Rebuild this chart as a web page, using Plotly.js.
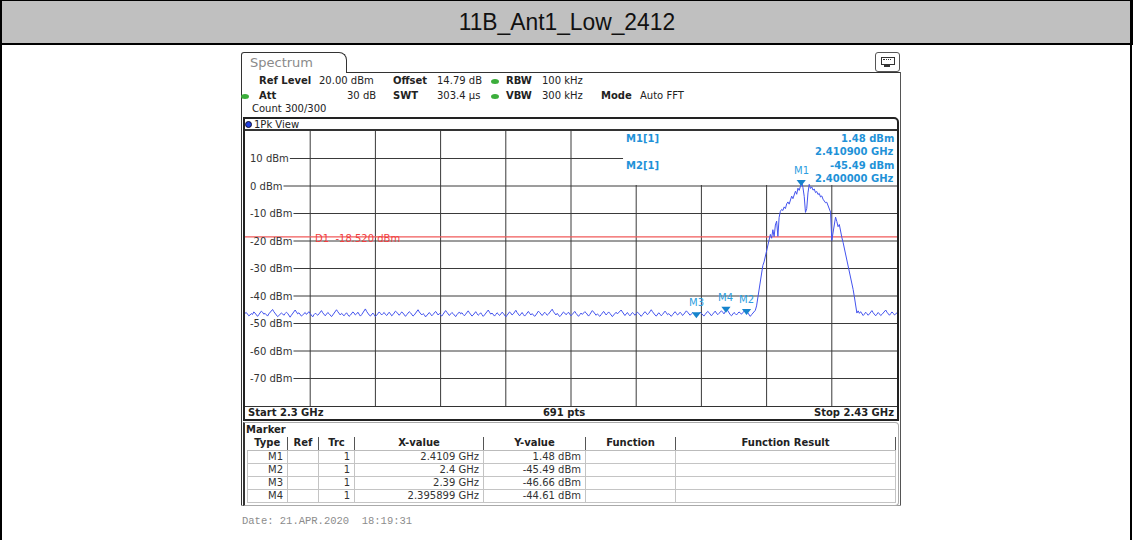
<!DOCTYPE html>
<html><head><meta charset="utf-8">
<script src="https://cdn.plot.ly/plotly-3.0.1.min.js"></script>
<style>
body{margin:0;width:1133px;height:540px;background:#fff;overflow:hidden;position:relative;font-family:"DejaVu Sans",sans-serif;color:#222;}
#plot{position:absolute;left:0;top:0;width:1133px;height:540px;z-index:0;}
#ov{position:absolute;left:0;top:0;width:1133px;height:540px;z-index:1;pointer-events:none;}
.a{position:absolute;white-space:nowrap;}
.t{font-size:10px;line-height:12px;}
.b{font-weight:bold;}
.dot{position:absolute;width:8px;height:5px;border-radius:50%;background:#3cae3c;}
table{border-collapse:collapse;table-layout:fixed;}
td,th{font-size:10px;padding:0 4px;height:12px;line-height:12px;white-space:nowrap;overflow:hidden;}
th{border-right:1px solid #555;border-bottom:1px solid #bbb;font-weight:bold;text-align:center;}
td{border:1px solid #c4c4c4;text-align:right;color:#333;}
</style></head><body>
<div id="plot"></div>
<div id="ov">
  <div class="a" style="left:0;top:0;width:1131px;height:42px;background:#c0c0c0;border:1px solid #000;border-bottom:2px solid #000;"></div>
  <div class="a" style="left:0;top:0;width:1133px;height:44px;text-align:center;line-height:44px;font-family:'Liberation Sans',Arial,sans-serif;font-size:24px;color:#111;"><span style="display:inline-block;transform:scaleX(0.95);">11B_Ant1_Low_2412</span></div>
  <div class="a" style="left:0;top:0;width:2px;height:540px;background:#000;"></div>
  <div class="a" style="left:1130px;top:0;width:2px;height:540px;background:#000;"></div>

  <!-- tab -->
  <div class="a" style="left:241px;top:52px;width:106px;height:21px;border:1px solid #333;border-bottom:none;border-radius:3px 8px 0 0;box-sizing:border-box;"></div>
  <div class="a" style="left:250px;top:55px;font-size:13px;line-height:16px;color:#8a8a8a;">Spectrum</div>
  <div class="a" style="left:346px;top:72px;width:555px;height:1px;background:#333;"></div>
  <div class="a" style="left:241px;top:72px;width:1px;height:433px;background:#333;"></div>
  <div class="a" style="left:900px;top:72px;width:1px;height:433px;background:#555;"></div>
  <div class="a" style="left:241px;top:505px;width:660px;height:1px;background:#999;"></div>
  <!-- icon -->
  <div class="a" style="left:875px;top:52px;width:25px;height:20px;border:1px solid #555;border-radius:3px;box-sizing:border-box;"></div>
  <div class="a" style="left:881px;top:57px;width:12px;height:6px;border:1px solid #333;"></div>
  <div class="a" style="left:883px;top:59px;width:8px;height:0;border-top:1px dotted #333;"></div>
  <div class="a" style="left:884px;top:65px;width:6px;height:0;border-top:2px solid #333;"></div>

  <!-- header info -->
  <div class="a t b" style="left:259px;top:75px;">Ref Level</div>
  <div class="a t" style="left:319px;top:75px;">20.00 dBm</div>
  <div class="a t b" style="left:393px;top:75px;">Offset</div>
  <div class="a t" style="left:437px;top:75px;">14.79 dB</div>
  <div class="dot" style="left:491px;top:79px;"></div>
  <div class="a t b" style="left:506px;top:75px;">RBW</div>
  <div class="a t" style="left:542px;top:75px;">100 kHz</div>
  <div class="dot" style="left:241px;top:94px;"></div>
  <div class="a t b" style="left:259px;top:90px;">Att</div>
  <div class="a t" style="left:347px;top:90px;">30 dB</div>
  <div class="a t b" style="left:393px;top:90px;">SWT</div>
  <div class="a t" style="left:437px;top:90px;">303.4 µs</div>
  <div class="dot" style="left:491px;top:94px;"></div>
  <div class="a t b" style="left:506px;top:90px;">VBW</div>
  <div class="a t" style="left:542px;top:90px;">300 kHz</div>
  <div class="a t b" style="left:601px;top:90px;">Mode</div>
  <div class="a t" style="left:640px;top:90px;">Auto FFT</div>
  <div class="a t" style="left:252px;top:103px;">Count 300/300</div>

  <!-- diagram frame -->
  <div class="a" style="left:243px;top:117px;width:656px;height:304px;border:2px solid #222;border-radius:0 5px 0 0;box-sizing:border-box;"></div>
  <div class="a" style="left:245px;top:129px;width:652px;height:2px;background:#333;"></div>
  <div class="a" style="left:245px;top:406px;width:652px;height:1px;background:#333;"></div>
  <div class="a" style="left:245px;top:121px;width:7px;height:7px;border-radius:50%;background:#1f3fe0;border:1px solid #113;box-sizing:border-box;"></div>
  <div class="a t" style="left:254px;top:119px;">1Pk View</div>
  <div class="a t b" style="left:248px;top:407px;">Start 2.3 GHz</div>
  <div class="a t b" style="left:514px;top:407px;width:100px;text-align:center;">691 pts</div>
  <div class="a t b" style="left:744px;top:407px;width:150px;text-align:right;">Stop 2.43 GHz</div>

  <!-- marker box -->
  <div class="a" style="left:243px;top:422px;width:656px;height:84px;border:1px solid #aaa;border-left:2px solid #333;border-radius:0 4px 4px 0;box-sizing:border-box;"></div>
  <div class="a t b" style="left:246px;top:424px;">Marker</div>
  <div class="a" style="left:247px;top:437px;" id="tblwrap"></div>

  <div class="a" style="left:242px;top:515px;font-family:'Liberation Mono',monospace;font-size:10.5px;line-height:13px;color:#8c8c8c;">Date: 21.APR.2020&nbsp;&nbsp;18:19:31</div>
</div>
<script>
// ---- data ----
const sweepStartGHz = 2.3;
const sweepStopGHz = 2.43;
const sweepStepGHz = 0.00025;
const traceLevelsDbm = [
-46.3,-46.0,-46.6,-47.2,-46.9,-46.4,-46.7,-45.8,-46.2,-47.0,-47.4,-46.8,-46.1,-45.5,-45.9,-46.6,-46.3,-46.9,-47.3,-46.5,
-46.0,-45.2,-44.9,-45.7,-46.4,-46.8,-47.5,-47.1,-46.6,-46.2,-46.5,-47.0,-46.4,-45.9,-46.3,-47.2,-47.7,-47.0,-46.2,-45.6,
-45.1,-45.8,-46.5,-46.1,-46.8,-47.3,-46.9,-46.4,-46.0,-46.7,-46.2,-45.7,-46.4,-47.1,-47.6,-46.8,-46.3,-46.6,-47.0,-46.5,
-45.8,-45.3,-46.1,-46.9,-47.2,-46.6,-46.0,-46.4,-47.1,-47.5,-46.9,-46.2,-45.6,-45.0,-45.7,-46.5,-46.9,-46.3,-46.7,-47.2,
-46.6,-46.1,-46.8,-47.4,-47.0,-46.3,-45.8,-46.2,-46.9,-46.5,-45.9,-46.6,-47.3,-46.8,-46.2,-45.4,-44.7,-45.6,-46.4,-46.9,
-47.3,-46.7,-46.2,-46.8,-47.5,-47.0,-46.4,-45.8,-46.3,-46.9,-46.4,-46.0,-46.7,-47.1,-46.5,-45.9,-46.5,-47.2,-46.8,-46.1,
-45.5,-45.9,-46.6,-47.0,-46.4,-45.8,-46.2,-46.9,-47.4,-46.8,-46.3,-45.7,-46.1,-46.8,-47.3,-46.9,-46.2,-45.4,-45.0,-45.8,
-46.5,-46.9,-46.4,-46.8,-47.6,-47.1,-46.5,-46.0,-46.6,-47.2,-46.7,-46.1,-45.6,-46.2,-46.9,-46.4,-46.8,-47.3,-46.6,-46.0,
-45.3,-45.9,-46.7,-47.1,-46.5,-46.0,-46.4,-47.0,-47.5,-46.8,-46.2,-45.8,-46.5,-46.1,-46.7,-47.2,-46.6,-45.9,-45.4,-46.1,
-46.8,-47.3,-46.9,-46.3,-45.7,-46.4,-47.0,-46.6,-46.1,-46.8,-47.4,-46.9,-46.3,-45.6,-45.1,-45.9,-46.6,-46.2,-46.9,-47.3,
-46.7,-46.1,-46.5,-47.1,-46.6,-45.9,-46.3,-47.0,-47.6,-47.0,-46.4,-45.8,-46.2,-46.9,-46.5,-45.7,-45.2,-46.0,-46.8,-47.2,
-46.6,-46.0,-46.7,-47.3,-46.8,-46.2,-45.6,-46.3,-46.9,-46.4,-46.8,-47.4,-46.9,-46.1,-45.5,-46.0,-46.7,-47.1,-46.5,-45.9,
-46.4,-47.0,-46.6,-46.1,-45.4,-44.8,-45.7,-46.5,-46.9,-46.3,-46.8,-47.5,-47.0,-46.3,-45.8,-46.2,-46.8,-46.4,-45.9,-46.6,
-47.2,-46.7,-46.1,-45.6,-46.3,-46.9,-47.4,-46.8,-46.2,-46.7,-46.3,-45.7,-46.1,-46.8,-47.3,-46.7,-46.0,-45.3,-45.8,-46.5,
-47.0,-46.5,-46.9,-47.4,-46.8,-46.1,-45.6,-46.2,-46.9,-46.4,-45.8,-46.3,-47.0,-47.5,-46.9,-46.3,-45.9,-46.5,-46.1,-45.5,
-45.1,-45.8,-46.6,-47.1,-46.5,-46.0,-46.7,-47.2,-46.6,-46.0,-46.4,-47.0,-46.5,-45.9,-46.3,-46.9,-47.4,-46.8,-46.2,-45.7,
-46.2,-46.8,-46.3,-45.6,-45.0,-45.7,-46.4,-46.9,-47.3,-46.7,-46.1,-46.6,-47.2,-46.7,-46.0,-45.5,-46.1,-46.8,-46.4,-46.9,
-47.4,-46.8,-46.2,-45.7,-46.3,-46.9,-46.5,-45.9,-46.4,-47.1,-46.6,-46.0,-45.4,-45.9,-46.6,-47.0,-46.5,-46.1,-46.5,-46.9,
-46.66,-47.1,-46.5,-45.9,-46.3,-46.8,-47.3,-46.7,-46.1,-45.6,-46.0,-46.7,-47.2,-46.6,-46.0,-45.5,-46.2,-46.8,-46.3,-45.8,
-45.4,-45.9,-46.5,-45.7,-44.61,-45.3,-46.2,-46.8,-47.2,-46.5,-46.0,-46.4,-46.9,-46.3,-45.8,-46.2,-46.6,-46.0,-45.6,-45.2,
-45.49,-46.2,-46.9,-47.4,-46.8,-46.3,
-46.0,-45.2,-43.6,-40.5,-37.4,-34.6,-31.2,-28.9,-27.6,-25.4,-23.6,-21.9,-19.8,-17.6,-19.0,-15.9,-18.4,-14.2,-12.8,-18.3,
-11.4,-9.2,-8.5,-8.9,-7.6,-8.2,-6.5,-5.8,-6.6,-4.9,-3.7,-4.6,-2.8,-1.9,-3.0,-0.8,-1.6,0.4,1.48,-0.6,
-3.8,-9.6,-8.2,-2.5,0.6,-0.9,-0.3,-1.5,-1.1,-2.4,-2.0,-3.1,-2.7,-4.0,-3.6,-4.8,-5.3,-6.1,-5.9,-7.2,
-8.0,-9.5,-19.8,-17.2,-13.6,-11.3,-12.9,-14.8,-14.0,-17.1,-18.7,-20.5,-22.6,-24.1,-26.0,-28.3,-30.2,-32.5,-34.9,-37.6,
-40.3,-43.0,-46.2,-45.4,
-46.3,-45.7,-46.5,-47.1,-46.6,-45.9,-46.4,-47.0,-46.5,-45.8,-45.3,-46.1,-46.8,-47.2,-46.6,-46.0,-46.5,-47.1,-46.7,-46.2,
-45.6,-45.1,-45.9,-46.6,-47.0,-46.4,-45.8,-46.3,-46.9,-46.5,-46.1
];
const refLevelDbm = 20;
const bottomLevelDbm = -80;
const yGridDbm = [10,0,-10,-20,-30,-40,-50,-60,-70];
const xDivisions = 10;
const displayLineDbm = -18.52;
const displayLineText = 'D1\u00a0\u00a0-18.520 dBm';
const markerNames = ['M1','M2','M3','M4'];
const markerFreqGHz = [2.4109, 2.4, 2.39, 2.395899];
const markerLevelDbm = [1.48, -45.49, -46.66, -44.61];
const markerXText = ['2.4109 GHz','2.4 GHz','2.39 GHz','2.395899 GHz'];
const markerYText = ['1.48 dBm','-45.49 dBm','-46.66 dBm','-44.61 dBm'];
const markerTrc = [1,1,1,1];
const infoLabels = ['M1[1]','M2[1]'];
const infoLevels = ['1.48 dBm','-45.49 dBm'];
const infoFreqs = ['2.410900 GHz','2.400000 GHz'];
const tableHeaders = ['Type','Ref','Trc','X-value','Y-value','Function','Function Result'];

// ---- build ----
const freqGHz = traceLevelsDbm.map((_, i) => +(sweepStartGHz + i * sweepStepGHz).toFixed(6));
const plotW = 652;
const markerColor = '#1f92d8';
const font = 'DejaVu Sans';

const cv = document.createElement('canvas').getContext('2d');
cv.font = '10px "DejaVu Sans"';

const shapes = [];
for (let k = 1; k < xDivisions; k++) {
  const xv = sweepStartGHz + k * (sweepStopGHz - sweepStartGHz) / xDivisions;
  shapes.push({type:'line', layer:'below', xref:'x', yref:'paper', x0:xv, x1:xv, y0:0, y1:1, line:{color:'#3a3a3a', width:1}});
}
yGridDbm.forEach(v => {
  shapes.push({type:'line', layer:'below', xref:'paper', yref:'y', x0:0, x1:1, y0:v, y1:v, line:{color:'#3a3a3a', width:1}});
});
const labelTexts = yGridDbm.map(v => v + ' dBm');
labelTexts.forEach((txt, i) => {
  const w = cv.measureText(txt).width + 6;
  shapes.push({type:'rect', layer:'below', xref:'paper', yref:'y', x0:0, x1:w/plotW, y0:yGridDbm[i]-0.6, y1:yGridDbm[i]+0.6, fillcolor:'#fff', line:{width:0}});
});
shapes.push({type:'rect', layer:'below', xref:'paper', yref:'y', x0:0.5798, x1:1, y0:0.4, y1:refLevelDbm, fillcolor:'#fff', line:{width:0}});
shapes.push({type:'line', layer:'below', xref:'paper', yref:'y', x0:0, x1:1, y0:displayLineDbm, y1:displayLineDbm, line:{color:'#f05a5a', width:1.2}});

const ann = [];
labelTexts.forEach((txt, i) => {
  ann.push({xref:'paper', yref:'y', x:0, y:yGridDbm[i], xanchor:'left', yanchor:'middle', xshift:3, text:txt, showarrow:false, font:{family:font, size:10, color:'#333'}});
});
ann.push({xref:'paper', yref:'y', x:(313-245)/plotW, y:displayLineDbm, xanchor:'left', yanchor:'middle', yshift:-2, text:displayLineText, showarrow:false, font:{family:font, size:10, color:'#f04040'}});
markerNames.forEach((m, i) => {
  ann.push({xref:'x', yref:'y', x:markerFreqGHz[i], y:markerLevelDbm[i], xanchor:'center', yanchor:'bottom', yshift:4, text:m, showarrow:false, font:{family:font, size:10, color:'#2e9ee0'}});
});
const infoY = [[0.9745, 0.927], [0.875, 0.829]];
infoLabels.forEach((lab, i) => {
  ann.push({xref:'paper', yref:'paper', x:(624-245)/plotW, y:infoY[i][0], xanchor:'left', yanchor:'middle', text:'<b>'+lab+'</b>', showarrow:false, font:{family:font, size:10, color:markerColor}});
  ann.push({xref:'paper', yref:'paper', x:1, y:infoY[i][0], xanchor:'right', yanchor:'middle', xshift:-1, text:'<b>'+infoLevels[i]+'</b>', showarrow:false, font:{family:font, size:10, color:markerColor}});
  ann.push({xref:'paper', yref:'paper', x:1, y:infoY[i][1], xanchor:'right', yanchor:'middle', xshift:-1, text:'<b>'+infoFreqs[i]+'</b>', showarrow:false, font:{family:font, size:10, color:markerColor}});
});

const trace = {x:freqGHz, y:traceLevelsDbm, type:'scatter', mode:'lines', line:{color:'#4353ee', width:1}, hoverinfo:'skip'};
const markerTriangles = {x:markerFreqGHz, y:markerLevelDbm, type:'scatter', mode:'markers',
  marker:{symbol:'triangle-down', size:8, color:'#1684cc', line:{width:0}}, hoverinfo:'skip'};

const layout = {
  width:1133, height:540,
  margin:{l:245, r:236, t:131, b:134, pad:0},
  paper_bgcolor:'#fff', plot_bgcolor:'#fff',
  showlegend:false,
  xaxis:{range:[sweepStartGHz, sweepStopGHz], showgrid:false, zeroline:false, showline:false, showticklabels:false, ticks:'', fixedrange:true},
  yaxis:{range:[bottomLevelDbm, refLevelDbm], showgrid:false, zeroline:false, showline:false, showticklabels:false, ticks:'', fixedrange:true},
  shapes:shapes, annotations:ann
};
Plotly.newPlot('plot', [trace, markerTriangles], layout, {staticPlot:true, displayModeBar:false});

// ---- marker table ----
const colW = [40,31,36,129,102,90,220];
let h = '<table style="width:648px;"><colgroup>' + colW.map(w => '<col style="width:'+w+'px">').join('') + '</colgroup>';
h += '<tr style="height:13px;">' + tableHeaders.map(t => '<th>'+t+'</th>').join('') + '</tr>';
markerNames.forEach((m, i) => {
  h += '<tr style="height:12.5px;"><td>'+m+'</td><td></td><td>'+markerTrc[i]+'</td><td>'+markerXText[i]+'</td><td>'+markerYText[i]+'</td><td></td><td></td></tr>';
});
h += '</table>';
document.getElementById('tblwrap').innerHTML = h;
</script>
</body></html>
